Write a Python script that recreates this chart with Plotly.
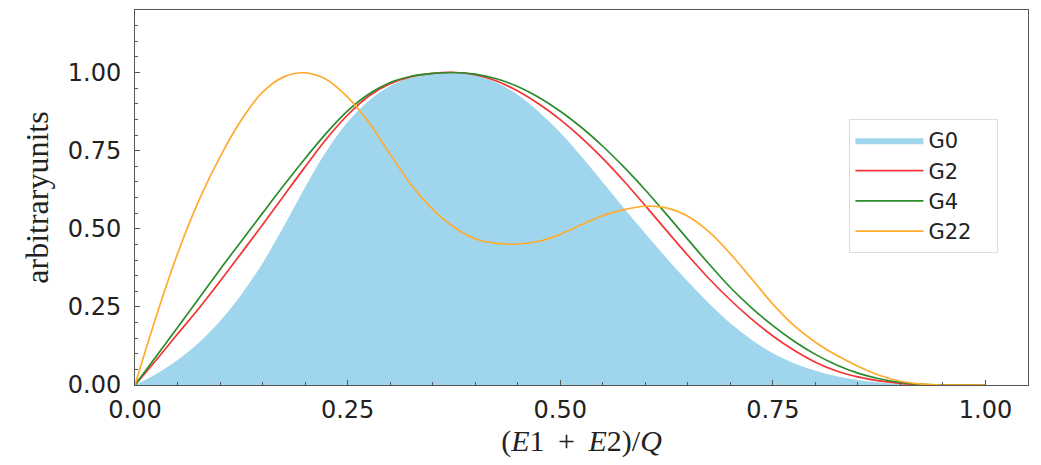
import plotly.graph_objects as go

x = [0.0, 0.025, 0.05, 0.075, 0.1, 0.125, 0.15, 0.175, 0.2, 0.225, 0.25, 0.275, 0.3,
     0.325, 0.35, 0.375, 0.4, 0.425, 0.45, 0.475, 0.5, 0.525, 0.55, 0.575, 0.6, 0.625,
     0.65, 0.675, 0.7, 0.725, 0.75, 0.775, 0.8, 0.825, 0.85, 0.875, 0.9, 0.925, 0.95,
     0.975, 1.0]

g0 = [0.0, 0.035, 0.08, 0.135, 0.205, 0.29, 0.39, 0.508, 0.633, 0.748, 0.842, 0.91, 0.957,
      0.985, 0.997, 1.0, 0.992, 0.968, 0.929, 0.874, 0.808, 0.731, 0.649, 0.566, 0.485, 0.406,
      0.331, 0.261, 0.198, 0.145, 0.102, 0.07, 0.046, 0.028, 0.016, 0.008, 0.003, 0.001, 0.0,
      0.0, 0.0]

g2 = [0.0, 0.08, 0.163, 0.245, 0.332, 0.422, 0.513, 0.606, 0.698, 0.787, 0.864, 0.925, 0.964,
      0.987, 0.997, 1.0, 0.993, 0.973, 0.941, 0.899, 0.849, 0.791, 0.725, 0.652, 0.574, 0.494,
      0.415, 0.34, 0.272, 0.211, 0.157, 0.111, 0.073, 0.045, 0.026, 0.013, 0.005, 0.001, 0.0,
      0.0, 0.0]

g4 = [0.0, 0.092, 0.184, 0.277, 0.37, 0.46, 0.55, 0.639, 0.725, 0.806, 0.877, 0.931, 0.968,
      0.988, 0.997, 1.0, 0.995, 0.98, 0.955, 0.92, 0.876, 0.824, 0.764, 0.697, 0.624, 0.546,
      0.466, 0.387, 0.312, 0.247, 0.19, 0.14, 0.098, 0.064, 0.038, 0.02, 0.008, 0.002, 0.0,
      0.0, 0.0]

g22 = [0.0, 0.22, 0.42, 0.59, 0.73, 0.848, 0.937, 0.986, 0.999, 0.978, 0.921, 0.84, 0.738,
       0.64, 0.562, 0.505, 0.468, 0.453, 0.451, 0.46, 0.482, 0.513, 0.542, 0.561, 0.572, 0.567,
       0.54, 0.49, 0.42, 0.34, 0.259, 0.19, 0.137, 0.095, 0.06, 0.031, 0.012, 0.003, 0.0,
       0.0, 0.0]

xticks = [0.0, 0.25, 0.5, 0.75, 1.0]
yticks = [0.0, 0.25, 0.5, 0.75, 1.0]
tick_labels = ["0.00", "0.25", "0.50", "0.75", "1.00"]
names = ["G0", "G2", "G4", "G22"]
PAD = "\u00a0\u00a0\u00a0"

SM = 1.0
fig = go.Figure()
fig.add_trace(go.Scatter(x=x, y=g0, name=names[0] + PAD, mode="lines", fill="tozeroy",
                         fillcolor="rgb(160,214,237)",
                         line=dict(width=0, shape="spline", smoothing=SM, color="rgb(160,214,237)")))
fig.add_trace(go.Scatter(x=x, y=g2, name=names[1] + PAD, mode="lines",
                         line=dict(color="#f43434", width=1.7, shape="spline", smoothing=SM)))
fig.add_trace(go.Scatter(x=x, y=g4, name=names[2] + PAD, mode="lines",
                         line=dict(color="#2a8c2a", width=1.7, shape="spline", smoothing=SM)))
fig.add_trace(go.Scatter(x=x, y=g22, name=names[3] + PAD, mode="lines",
                         line=dict(color="#ffab2e", width=1.7, shape="spline", smoothing=SM)))

axis_common = dict(showline=True, linecolor="#555555", linewidth=1, mirror=True,
                   showgrid=False, zeroline=False, ticks="inside", ticklen=5,
                   tickcolor="#555555", tickfont=dict(family="DejaVu Sans", size=24, color="#222"),
                   minor=dict(ticks="inside", ticklen=3, dtick=0.05, tickcolor="#555555",
                              showgrid=False))

fig.update_xaxes(range=[0, 1.05], tickvals=xticks, ticktext=tick_labels,
                 ticklabelstandoff=3,
                 title=dict(text="(<i>E</i>1 \u2009+\u2009 <i>E</i>2)/<i>Q</i>",
                            font=dict(family="Liberation Serif", size=30, color="#222"),
                            standoff=6),
                 **axis_common)
fig.update_yaxes(range=[0, 1.2], tickvals=yticks, ticktext=tick_labels,
                 ticklabelstandoff=8,
                 title=dict(text="arbitraryunits",
                            font=dict(family="Liberation Serif", size=32, color="#222"),
                            standoff=9),
                 **axis_common)

fig.update_layout(
    width=1033, height=457,
    margin=dict(l=127, r=13, t=2, b=80),
    plot_bgcolor="white", paper_bgcolor="white",
    legend=dict(x=0.80, y=0.709, xanchor="left", yanchor="top",
                bgcolor="white", bordercolor="#dddddd", borderwidth=1,
                itemwidth=68,
                font=dict(family="DejaVu Sans", size=21, color="#222"),
                tracegroupgap=0),
    showlegend=True,
)

fig.write_html("out.html")
